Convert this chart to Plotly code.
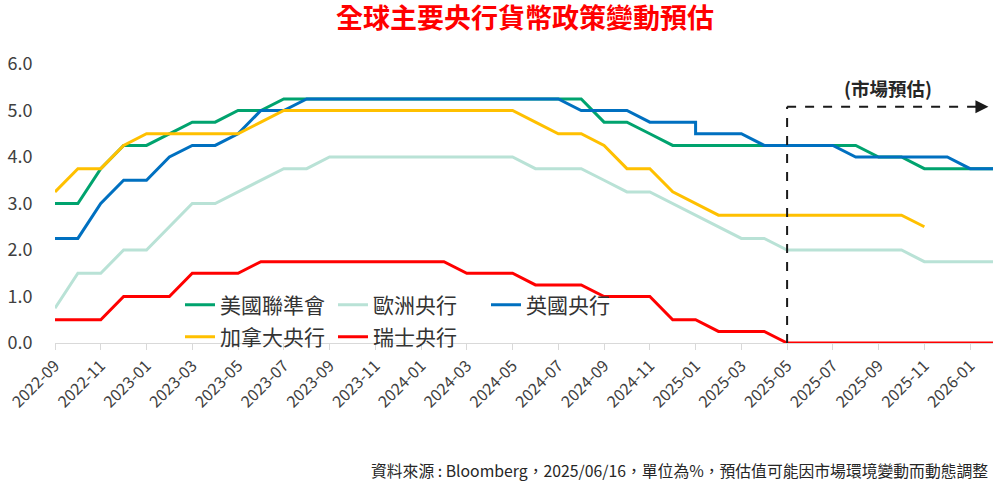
import plotly.graph_objects as go

# monthly categories, 2022-09 .. 2026-02
months = [
    "2022-09", "2022-10", "2022-11", "2022-12",
    "2023-01", "2023-02", "2023-03", "2023-04", "2023-05", "2023-06",
    "2023-07", "2023-08", "2023-09", "2023-10", "2023-11", "2023-12",
    "2024-01", "2024-02", "2024-03", "2024-04", "2024-05", "2024-06",
    "2024-07", "2024-08", "2024-09", "2024-10", "2024-11", "2024-12",
    "2025-01", "2025-02", "2025-03", "2025-04", "2025-05", "2025-06",
    "2025-07", "2025-08", "2025-09", "2025-10", "2025-11", "2025-12",
    "2026-01", "2026-02",
]

fed = [3.0, 3.0, 3.75, 4.25, 4.25, 4.5, 4.75, 4.75, 5.0, 5.0,
       5.25, 5.25, 5.25, 5.25, 5.25, 5.25, 5.25, 5.25, 5.25, 5.25,
       5.25, 5.25, 5.25, 5.25, 4.75, 4.75, 4.5, 4.25, 4.25, 4.25,
       4.25, 4.25, 4.25, 4.25, 4.25, 4.25, 4.0, 4.0, 3.75, 3.75,
       3.75, 3.75]

ecb = [0.75, 1.5, 1.5, 2.0, 2.0, 2.5, 3.0, 3.0, 3.25, 3.5,
       3.75, 3.75, 4.0, 4.0, 4.0, 4.0, 4.0, 4.0, 4.0, 4.0,
       4.0, 3.75, 3.75, 3.75, 3.5, 3.25, 3.25, 3.0, 2.75, 2.5,
       2.25, 2.25, 2.0, 2.0, 2.0, 2.0, 2.0, 2.0, 1.75, 1.75,
       1.75, 1.75]

# BoE has two readings in 2025-01 (step down within the month)
boe_months = months[:29] + months[28:]
boe = [2.25, 2.25, 3.0, 3.5, 3.5, 4.0, 4.25, 4.25, 4.5, 5.0,
       5.0, 5.25, 5.25, 5.25, 5.25, 5.25, 5.25, 5.25, 5.25, 5.25,
       5.25, 5.25, 5.25, 5.0, 5.0, 5.0, 4.75, 4.75, 4.75, 4.5,
       4.5, 4.5, 4.25, 4.25, 4.25, 4.25, 4.0, 4.0, 4.0, 4.0,
       4.0, 3.75, 3.75]

boc_months = months[:39]
boc = [3.25, 3.75, 3.75, 4.25, 4.5, 4.5, 4.5, 4.5, 4.5, 4.75,
       5.0, 5.0, 5.0, 5.0, 5.0, 5.0, 5.0, 5.0, 5.0, 5.0,
       5.0, 4.75, 4.5, 4.5, 4.25, 3.75, 3.75, 3.25, 3.0, 2.75,
       2.75, 2.75, 2.75, 2.75, 2.75, 2.75, 2.75, 2.75, 2.5]

snb = [0.5, 0.5, 0.5, 1.0, 1.0, 1.0, 1.5, 1.5, 1.5, 1.75,
       1.75, 1.75, 1.75, 1.75, 1.75, 1.75, 1.75, 1.75, 1.5, 1.5,
       1.5, 1.25, 1.25, 1.25, 1.0, 1.0, 1.0, 0.5, 0.5, 0.25,
       0.25, 0.25, 0.0, 0.0, 0.0, 0.0, 0.0, 0.0, 0.0, 0.0,
       0.0, 0.0]

y_ticks = [0, 1, 2, 3, 4, 5, 6]
forecast_start = "2025-05"

FONT = "Noto Sans CJK TC"

fig = go.Figure()
series = [
    ("美國聯準會", months, fed, "#00a36e", "legend"),
    ("歐洲央行", months, ecb, "#b9e2d6", "legend"),
    ("英國央行", boe_months, boe, "#0070c0", "legend"),
    ("加拿大央行", boc_months, boc, "#ffc000", "legend2"),
    ("瑞士央行", months, snb, "#ff0000", "legend2"),
]
for name, xs, ys, color, lg in series:
    fig.add_trace(go.Scatter(x=xs, y=ys, mode="lines", name=name,
        line=dict(color=color, width=3), legend=lg, cliponaxis=False))

# forecast bracket
fig.add_shape(type="line", x0=forecast_start, x1=forecast_start, y0=0, y1=5.08,
    xref="x", yref="y", line=dict(color="#1a1a1a", width=2, dash="dash"))
fig.add_shape(type="line", x0=forecast_start, x1=40.5, y0=5.08, y1=5.08,
    xref="x", yref="y", line=dict(color="#1a1a1a", width=2, dash="dash"))
fig.add_annotation(x=40.8, y=5.08, ax=40.45, ay=5.08, axref="x", ayref="y",
    xref="x", yref="y", text="", showarrow=True, arrowhead=2, arrowsize=1.3,
    arrowwidth=2, arrowcolor="#1a1a1a")
fig.add_annotation(x=36.4, y=5.48, xref="x", yref="y", text="<b>(市場預估)</b>",
    showarrow=False, font=dict(family=FONT, size=18.5, color="#262626"))

fig.add_annotation(x=(990 - 55) / 938, y=(343 - 470) / 279, xref="paper", yref="paper",
    xanchor="right", yanchor="middle", showarrow=False,
    text="資料來源 : Bloomberg，2025/06/16，單位為%，預估值可能因市場環境變動而動態調整",
    font=dict(family=FONT, size=15.8, color="#262626"))

legend_common = dict(orientation="h", xref="paper", yref="paper", xanchor="left",
    yanchor="middle", bgcolor="rgba(0,0,0,0)", entrywidth=108, entrywidthmode="pixels",
    font=dict(family=FONT, size=21, color="#333333"), itemwidth=30)

fig.update_layout(
    width=1003, height=484,
    margin=dict(l=55, r=10, t=64, b=141),
    paper_bgcolor="white", plot_bgcolor="white",
    font=dict(family=FONT, color="#404040"),
    title=dict(text="<b>全球主要央行貨幣政策變動預估</b>", x=525 / 1003, xanchor="center",
        y=1 - 19 / 484, yanchor="middle", font=dict(family=FONT, size=27, color="#ff0000")),
    legend=dict(x=(180 - 55) / 938, y=(343 - 305) / 279, **legend_common),
    legend2=dict(x=(180 - 55) / 938, y=(343 - 337) / 279, **legend_common),
    xaxis=dict(type="category", categoryorder="array", categoryarray=months,
        range=[0, len(months) - 1], tickmode="array", tickvals=months[::2],
        tickangle=-45, tickfont=dict(family=FONT, size=16, color="#404040"),
        showgrid=False, showline=True, linecolor="#d9d9d9", linewidth=1,
        ticks="outside", ticklen=6, tickcolor="#d9d9d9", zeroline=False,
        automargin=False),
    yaxis=dict(range=[0, 6], tickmode="array", tickvals=y_ticks,
        ticktext=[f"{v:.1f}" for v in y_ticks], showgrid=False, zeroline=False,
        showline=False, ticks="outside", ticklen=18, tickcolor="rgba(0,0,0,0)",
        tickfont=dict(family=FONT, size=18, color="#404040"), automargin=False),
)

# page body has a default 8px margin; drop it so the figure sits at the window corner
fig.write_html("out.html", config={"displayModeBar": False},
    post_script="document.body.style.margin='0px';")
